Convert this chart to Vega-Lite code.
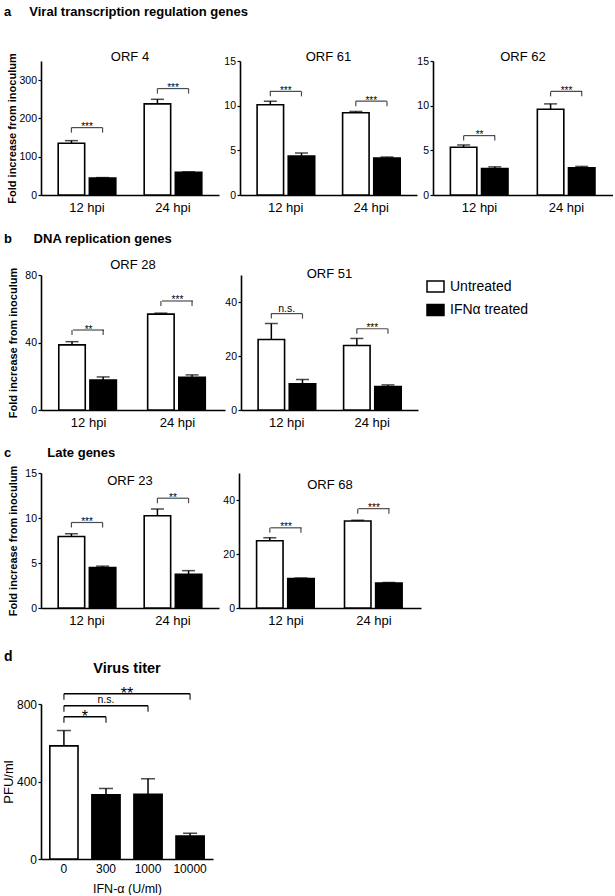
{
  "$schema": "https://vega.github.io/schema/vega-lite/v6.json",
  "background": "white",
  "padding": {"left": 2, "top": 6, "right": 0, "bottom": 0},
  "datasets": {
    "bars": [
      {"orf": "ORF 4", "group": "12 hpi", "treatment": "Untreated", "value": 135, "hi": 142},
      {"orf": "ORF 4", "group": "12 hpi", "treatment": "IFNα treated", "value": 44, "hi": 45.5},
      {"orf": "ORF 4", "group": "24 hpi", "treatment": "Untreated", "value": 238, "hi": 250},
      {"orf": "ORF 4", "group": "24 hpi", "treatment": "IFNα treated", "value": 59, "hi": 60.5},
      {"orf": "ORF 61", "group": "12 hpi", "treatment": "Untreated", "value": 10.1, "hi": 10.5},
      {"orf": "ORF 61", "group": "12 hpi", "treatment": "IFNα treated", "value": 4.35, "hi": 4.7},
      {"orf": "ORF 61", "group": "24 hpi", "treatment": "Untreated", "value": 9.2, "hi": 9.35},
      {"orf": "ORF 61", "group": "24 hpi", "treatment": "IFNα treated", "value": 4.15, "hi": 4.25},
      {"orf": "ORF 62", "group": "12 hpi", "treatment": "Untreated", "value": 5.35, "hi": 5.6},
      {"orf": "ORF 62", "group": "12 hpi", "treatment": "IFNα treated", "value": 2.95, "hi": 3.15},
      {"orf": "ORF 62", "group": "24 hpi", "treatment": "Untreated", "value": 9.6, "hi": 10.2},
      {"orf": "ORF 62", "group": "24 hpi", "treatment": "IFNα treated", "value": 3.05, "hi": 3.2},
      {"orf": "ORF 28", "group": "12 hpi", "treatment": "Untreated", "value": 38.6, "hi": 40.5},
      {"orf": "ORF 28", "group": "12 hpi", "treatment": "IFNα treated", "value": 17.8, "hi": 19.6},
      {"orf": "ORF 28", "group": "24 hpi", "treatment": "Untreated", "value": 56.8, "hi": 57.4},
      {"orf": "ORF 28", "group": "24 hpi", "treatment": "IFNα treated", "value": 19.4, "hi": 20.8},
      {"orf": "ORF 51", "group": "12 hpi", "treatment": "Untreated", "value": 26.1, "hi": 32.0},
      {"orf": "ORF 51", "group": "12 hpi", "treatment": "IFNα treated", "value": 9.7, "hi": 11.3},
      {"orf": "ORF 51", "group": "24 hpi", "treatment": "Untreated", "value": 23.9, "hi": 26.5},
      {"orf": "ORF 51", "group": "24 hpi", "treatment": "IFNα treated", "value": 8.7, "hi": 9.3},
      {"orf": "ORF 23", "group": "12 hpi", "treatment": "Untreated", "value": 7.95, "hi": 8.25},
      {"orf": "ORF 23", "group": "12 hpi", "treatment": "IFNα treated", "value": 4.5, "hi": 4.65},
      {"orf": "ORF 23", "group": "24 hpi", "treatment": "Untreated", "value": 10.25, "hi": 11.0},
      {"orf": "ORF 23", "group": "24 hpi", "treatment": "IFNα treated", "value": 3.75, "hi": 4.15},
      {"orf": "ORF 68", "group": "12 hpi", "treatment": "Untreated", "value": 24.9, "hi": 26.0},
      {"orf": "ORF 68", "group": "12 hpi", "treatment": "IFNα treated", "value": 10.9, "hi": 11.1},
      {"orf": "ORF 68", "group": "24 hpi", "treatment": "Untreated", "value": 32.2, "hi": 32.5},
      {"orf": "ORF 68", "group": "24 hpi", "treatment": "IFNα treated", "value": 9.25, "hi": 9.45}
    ],
    "sig": [
      {"orf": "ORF 4", "group": "12 hpi", "treatment": "Untreated", "level": 176, "label": "***"},
      {"orf": "ORF 4", "group": "12 hpi", "treatment": "IFNα treated", "level": 176, "label": "***"},
      {"orf": "ORF 4", "group": "24 hpi", "treatment": "Untreated", "level": 278, "label": "***"},
      {"orf": "ORF 4", "group": "24 hpi", "treatment": "IFNα treated", "level": 278, "label": "***"},
      {"orf": "ORF 61", "group": "12 hpi", "treatment": "Untreated", "level": 11.6, "label": "***"},
      {"orf": "ORF 61", "group": "12 hpi", "treatment": "IFNα treated", "level": 11.6, "label": "***"},
      {"orf": "ORF 61", "group": "24 hpi", "treatment": "Untreated", "level": 10.5, "label": "***"},
      {"orf": "ORF 61", "group": "24 hpi", "treatment": "IFNα treated", "level": 10.5, "label": "***"},
      {"orf": "ORF 62", "group": "12 hpi", "treatment": "Untreated", "level": 6.65, "label": "**"},
      {"orf": "ORF 62", "group": "12 hpi", "treatment": "IFNα treated", "level": 6.65, "label": "**"},
      {"orf": "ORF 62", "group": "24 hpi", "treatment": "Untreated", "level": 11.6, "label": "***"},
      {"orf": "ORF 62", "group": "24 hpi", "treatment": "IFNα treated", "level": 11.6, "label": "***"},
      {"orf": "ORF 28", "group": "12 hpi", "treatment": "Untreated", "level": 47.4, "label": "**"},
      {"orf": "ORF 28", "group": "12 hpi", "treatment": "IFNα treated", "level": 47.4, "label": "**"},
      {"orf": "ORF 28", "group": "24 hpi", "treatment": "Untreated", "level": 64.6, "label": "***"},
      {"orf": "ORF 28", "group": "24 hpi", "treatment": "IFNα treated", "level": 64.6, "label": "***"},
      {"orf": "ORF 51", "group": "12 hpi", "treatment": "Untreated", "level": 35.7, "label": "n.s."},
      {"orf": "ORF 51", "group": "12 hpi", "treatment": "IFNα treated", "level": 35.7, "label": "n.s."},
      {"orf": "ORF 51", "group": "24 hpi", "treatment": "Untreated", "level": 30.1, "label": "***"},
      {"orf": "ORF 51", "group": "24 hpi", "treatment": "IFNα treated", "level": 30.1, "label": "***"},
      {"orf": "ORF 23", "group": "12 hpi", "treatment": "Untreated", "level": 9.5, "label": "***"},
      {"orf": "ORF 23", "group": "12 hpi", "treatment": "IFNα treated", "level": 9.5, "label": "***"},
      {"orf": "ORF 23", "group": "24 hpi", "treatment": "Untreated", "level": 12.2, "label": "**"},
      {"orf": "ORF 23", "group": "24 hpi", "treatment": "IFNα treated", "level": 12.2, "label": "**"},
      {"orf": "ORF 68", "group": "12 hpi", "treatment": "Untreated", "level": 29.7, "label": "***"},
      {"orf": "ORF 68", "group": "12 hpi", "treatment": "IFNα treated", "level": 29.7, "label": "***"},
      {"orf": "ORF 68", "group": "24 hpi", "treatment": "Untreated", "level": 36.8, "label": "***"},
      {"orf": "ORF 68", "group": "24 hpi", "treatment": "IFNα treated", "level": 36.8, "label": "***"}
    ],
    "titer": [
      {"dose": "0", "treatment": "Untreated", "value": 584, "hi": 663},
      {"dose": "300", "treatment": "IFNα treated", "value": 331, "hi": 364},
      {"dose": "1000", "treatment": "IFNα treated", "value": 334, "hi": 414},
      {"dose": "10000", "treatment": "IFNα treated", "value": 119, "hi": 133}
    ],
    "tsig": [
      {"from": "0", "to": "300", "mid": "300", "level": 734, "label": "*"},
      {"from": "0", "to": "1000", "mid": "300", "level": 791, "label": "n.s."},
      {"from": "0", "to": "10000", "mid": "1000", "level": 853, "label": "**"}
    ]
  },
  "config": {
    "view": {"stroke": null},
    "font": "Liberation Sans",
    "axis": {"domainColor": "black", "domainWidth": 1.6, "tickColor": "black", "tickWidth": 1.2, "labelColor": "black", "titleColor": "black", "grid": false, "labelFont": "Liberation Sans", "titleFont": "Liberation Sans", "labelOverlap": false},
    "axisX": {"ticks": false, "labelFontSize": 13, "labelPadding": 6, "labelAngle": 0},
    "axisY": {"tickSize": 3, "labelFontSize": 10.5, "labelPadding": 1.5, "titleFontSize": 11, "titleFontWeight": "bold", "labelOverlap": false},
    "title": {"color": "black", "fontWeight": "normal", "fontSize": 13, "baseline": "alphabetic", "font": "Liberation Sans", "offset": 0}
  },
  "spacing": 19,
  "resolve": {"scale": {"fill": "independent"}, "legend": {"fill": "independent"}},
  "vconcat": [
    {
      "title": {"text": "a\u00a0\u00a0\u00a0\u00a0\u00a0Viral transcription regulation genes", "anchor": "start", "frame": "group", "dx": -37, "offset": 31.5, "fontSize": 13, "fontWeight": "bold"},
      "spacing": 21,
      "bounds": "flush",
      "resolve": {"scale": {"fill": "independent"}, "legend": {"fill": "independent"}},
      "hconcat": [
        {
          "width": 178, "height": 134,
          "title": {"text": "ORF 4", "offset": 0, "dy": 11.5},
          "layer": [
            {"data": {"name": "bars"}, "transform": [{"filter": "datum.orf == 'ORF 4'"}],
             "mark": {"type": "bar", "stroke": "black", "strokeWidth": 1.6},
             "encoding": {
               "x": {"field": "group", "type": "nominal", "scale": {"paddingInner": 0.33, "paddingOuter": 0.2}, "title": null},
               "xOffset": {"field": "treatment", "type": "nominal", "scale": {"domain": ["Untreated", "IFNα treated"], "paddingInner": 0.15}},
               "y": {"field": "value", "type": "quantitative", "scale": {"domain": [0, 350], "nice": false}, "axis": {"values": [0, 50, 100, 150, 200, 250, 300, 350], "labelOverlap": {"expr": "false"}, "titlePadding": 1}, "title": "Fold increase from inoculum"},
               "fill": {"field": "treatment", "type": "nominal", "scale": {"domain": ["Untreated", "IFNα treated"], "range": ["white", "black"]}, "legend": null}
             }},
            {"data": {"name": "bars"}, "transform": [{"filter": "datum.orf == 'ORF 4'"}],
             "mark": {"type": "rule", "strokeWidth": 1.5, "color": "black"},
             "encoding": {"x": {"field": "group", "type": "nominal"}, "xOffset": {"field": "treatment", "type": "nominal"}, "y": {"field": "value", "type": "quantitative"}, "y2": {"field": "hi"}}},
            {"data": {"name": "bars"}, "transform": [{"filter": "datum.orf == 'ORF 4'"}],
             "mark": {"type": "tick", "orient": "horizontal", "size": 13, "thickness": 1.5, "color": "black"},
             "encoding": {"x": {"field": "group", "type": "nominal"}, "xOffset": {"field": "treatment", "type": "nominal"}, "y": {"field": "hi", "type": "quantitative"}}},
            {"data": {"name": "sig"}, "transform": [{"filter": "datum.orf == 'ORF 4' && datum.treatment == 'Untreated'"}],
             "mark": {"type": "tick", "orient": "horizontal", "size": 31, "thickness": 1.2, "color": "black"},
             "encoding": {"x": {"field": "group", "type": "nominal"}, "y": {"field": "level", "type": "quantitative"}}},
            {"data": {"name": "sig"}, "transform": [{"filter": "datum.orf == 'ORF 4'"}],
             "mark": {"type": "tick", "orient": "vertical", "size": 5, "thickness": 1.2, "color": "black", "yOffset": 2.5},
             "encoding": {"x": {"field": "group", "type": "nominal"}, "xOffset": {"field": "treatment", "type": "nominal"}, "y": {"field": "level", "type": "quantitative"}}},
            {"data": {"name": "sig"}, "transform": [{"filter": "datum.orf == 'ORF 4' && datum.treatment == 'Untreated'"}],
             "mark": {"type": "text", "fontSize": 10, "dy": 2.5, "baseline": "alphabetic", "color": "black"},
             "encoding": {"x": {"field": "group", "type": "nominal"}, "y": {"field": "level", "type": "quantitative"}, "text": {"field": "label"}}}
          ]
        },
        {
          "spacing": 16,
          "bounds": "flush",
          "resolve": {"scale": {"fill": "independent"}, "legend": {"fill": "independent"}},
          "hconcat": [
            {
              "width": 177, "height": 134,
              "title": {"text": "ORF 61", "offset": 0, "dy": 7.8},
              "layer": [
                {"data": {"name": "bars"}, "transform": [{"filter": "datum.orf == 'ORF 61'"}],
                 "mark": {"type": "bar", "stroke": "black", "strokeWidth": 1.6},
                 "encoding": {
                   "x": {"field": "group", "type": "nominal", "scale": {"paddingInner": 0.33, "paddingOuter": 0.2}, "title": null},
                   "xOffset": {"field": "treatment", "type": "nominal", "scale": {"domain": ["Untreated", "IFNα treated"], "paddingInner": 0.15}},
                   "y": {"field": "value", "type": "quantitative", "scale": {"domain": [0, 15], "nice": false}, "axis": {"values": [0, 5, 10, 15], "labelOverlap": {"expr": "false"}}, "title": null},
                   "fill": {"field": "treatment", "type": "nominal", "scale": {"domain": ["Untreated", "IFNα treated"], "range": ["white", "black"]}, "legend": null}
                 }},
                {"data": {"name": "bars"}, "transform": [{"filter": "datum.orf == 'ORF 61'"}],
                 "mark": {"type": "rule", "strokeWidth": 1.5, "color": "black"},
                 "encoding": {"x": {"field": "group", "type": "nominal"}, "xOffset": {"field": "treatment", "type": "nominal"}, "y": {"field": "value", "type": "quantitative"}, "y2": {"field": "hi"}}},
                {"data": {"name": "bars"}, "transform": [{"filter": "datum.orf == 'ORF 61'"}],
                 "mark": {"type": "tick", "orient": "horizontal", "size": 13, "thickness": 1.5, "color": "black"},
                 "encoding": {"x": {"field": "group", "type": "nominal"}, "xOffset": {"field": "treatment", "type": "nominal"}, "y": {"field": "hi", "type": "quantitative"}}},
                {"data": {"name": "sig"}, "transform": [{"filter": "datum.orf == 'ORF 61' && datum.treatment == 'Untreated'"}],
                 "mark": {"type": "tick", "orient": "horizontal", "size": 31, "thickness": 1.2, "color": "black"},
                 "encoding": {"x": {"field": "group", "type": "nominal"}, "y": {"field": "level", "type": "quantitative"}}},
                {"data": {"name": "sig"}, "transform": [{"filter": "datum.orf == 'ORF 61'"}],
                 "mark": {"type": "tick", "orient": "vertical", "size": 5, "thickness": 1.2, "color": "black", "yOffset": 2.5},
                 "encoding": {"x": {"field": "group", "type": "nominal"}, "xOffset": {"field": "treatment", "type": "nominal"}, "y": {"field": "level", "type": "quantitative"}}},
                {"data": {"name": "sig"}, "transform": [{"filter": "datum.orf == 'ORF 61' && datum.treatment == 'Untreated'"}],
                 "mark": {"type": "text", "fontSize": 10, "dy": 2.5, "baseline": "alphabetic", "color": "black"},
                 "encoding": {"x": {"field": "group", "type": "nominal"}, "y": {"field": "level", "type": "quantitative"}, "text": {"field": "label"}}}
              ]
            },
            {
              "width": 180, "height": 134,
              "title": {"text": "ORF 62", "offset": 0, "dy": 7.8},
              "layer": [
                {"data": {"name": "bars"}, "transform": [{"filter": "datum.orf == 'ORF 62'"}],
                 "mark": {"type": "bar", "stroke": "black", "strokeWidth": 1.6},
                 "encoding": {
                   "x": {"field": "group", "type": "nominal", "scale": {"paddingInner": 0.33, "paddingOuter": 0.2}, "title": null},
                   "xOffset": {"field": "treatment", "type": "nominal", "scale": {"domain": ["Untreated", "IFNα treated"], "paddingInner": 0.15}},
                   "y": {"field": "value", "type": "quantitative", "scale": {"domain": [0, 15], "nice": false}, "axis": {"values": [0, 5, 10, 15], "labelOverlap": {"expr": "false"}}, "title": null},
                   "fill": {"field": "treatment", "type": "nominal", "scale": {"domain": ["Untreated", "IFNα treated"], "range": ["white", "black"]}, "legend": null}
                 }},
                {"data": {"name": "bars"}, "transform": [{"filter": "datum.orf == 'ORF 62'"}],
                 "mark": {"type": "rule", "strokeWidth": 1.5, "color": "black"},
                 "encoding": {"x": {"field": "group", "type": "nominal"}, "xOffset": {"field": "treatment", "type": "nominal"}, "y": {"field": "value", "type": "quantitative"}, "y2": {"field": "hi"}}},
                {"data": {"name": "bars"}, "transform": [{"filter": "datum.orf == 'ORF 62'"}],
                 "mark": {"type": "tick", "orient": "horizontal", "size": 13, "thickness": 1.5, "color": "black"},
                 "encoding": {"x": {"field": "group", "type": "nominal"}, "xOffset": {"field": "treatment", "type": "nominal"}, "y": {"field": "hi", "type": "quantitative"}}},
                {"data": {"name": "sig"}, "transform": [{"filter": "datum.orf == 'ORF 62' && datum.treatment == 'Untreated'"}],
                 "mark": {"type": "tick", "orient": "horizontal", "size": 31, "thickness": 1.2, "color": "black"},
                 "encoding": {"x": {"field": "group", "type": "nominal"}, "y": {"field": "level", "type": "quantitative"}}},
                {"data": {"name": "sig"}, "transform": [{"filter": "datum.orf == 'ORF 62'"}],
                 "mark": {"type": "tick", "orient": "vertical", "size": 5, "thickness": 1.2, "color": "black", "yOffset": 2.5},
                 "encoding": {"x": {"field": "group", "type": "nominal"}, "xOffset": {"field": "treatment", "type": "nominal"}, "y": {"field": "level", "type": "quantitative"}}},
                {"data": {"name": "sig"}, "transform": [{"filter": "datum.orf == 'ORF 62' && datum.treatment == 'Untreated'"}],
                 "mark": {"type": "text", "fontSize": 10, "dy": 2.5, "baseline": "alphabetic", "color": "black"},
                 "encoding": {"x": {"field": "group", "type": "nominal"}, "y": {"field": "level", "type": "quantitative"}, "text": {"field": "label"}}}
              ]
            }
          ]
        }
      ]
    },
    {
      "spacing": 17,
      "resolve": {"scale": {"fill": "independent"}, "legend": {"fill": "independent"}},
      "vconcat": [
        {
          "title": {"text": "b\u00a0\u00a0\u00a0\u00a0\u00a0\u00a0DNA replication genes", "anchor": "start", "frame": "group", "dx": -37, "offset": 13, "fontSize": 13, "fontWeight": "bold"},
          "spacing": 16,
          "bounds": "flush",
          "resolve": {"scale": {"fill": "independent"}, "legend": {"fill": "independent"}},
          "hconcat": [
            {
              "width": 184, "height": 135,
              "title": {"text": "ORF 28", "offset": 0, "dy": 5},
              "layer": [
                {"data": {"name": "bars"}, "transform": [{"filter": "datum.orf == 'ORF 28'"}],
                 "mark": {"type": "bar", "stroke": "black", "strokeWidth": 1.6},
                 "encoding": {
                   "x": {"field": "group", "type": "nominal", "scale": {"paddingInner": 0.33, "paddingOuter": 0.2}, "title": null},
                   "xOffset": {"field": "treatment", "type": "nominal", "scale": {"domain": ["Untreated", "IFNα treated"], "paddingInner": 0.15}},
                   "y": {"field": "value", "type": "quantitative", "scale": {"domain": [0, 80], "nice": false}, "axis": {"values": [0, 20, 40, 60, 80], "labelOverlap": {"expr": "false"}, "titlePadding": 6}, "title": "Fold increase from inoculum"},
                   "fill": {"field": "treatment", "type": "nominal", "scale": {"domain": ["Untreated", "IFNα treated"], "range": ["white", "black"]}, "legend": null}
                 }},
                {"data": {"name": "bars"}, "transform": [{"filter": "datum.orf == 'ORF 28'"}],
                 "mark": {"type": "rule", "strokeWidth": 1.5, "color": "black"},
                 "encoding": {"x": {"field": "group", "type": "nominal"}, "xOffset": {"field": "treatment", "type": "nominal"}, "y": {"field": "value", "type": "quantitative"}, "y2": {"field": "hi"}}},
                {"data": {"name": "bars"}, "transform": [{"filter": "datum.orf == 'ORF 28'"}],
                 "mark": {"type": "tick", "orient": "horizontal", "size": 13, "thickness": 1.5, "color": "black"},
                 "encoding": {"x": {"field": "group", "type": "nominal"}, "xOffset": {"field": "treatment", "type": "nominal"}, "y": {"field": "hi", "type": "quantitative"}}},
                {"data": {"name": "sig"}, "transform": [{"filter": "datum.orf == 'ORF 28' && datum.treatment == 'Untreated'"}],
                 "mark": {"type": "tick", "orient": "horizontal", "size": 31, "thickness": 1.2, "color": "black"},
                 "encoding": {"x": {"field": "group", "type": "nominal"}, "y": {"field": "level", "type": "quantitative"}}},
                {"data": {"name": "sig"}, "transform": [{"filter": "datum.orf == 'ORF 28'"}],
                 "mark": {"type": "tick", "orient": "vertical", "size": 5, "thickness": 1.2, "color": "black", "yOffset": 2.5},
                 "encoding": {"x": {"field": "group", "type": "nominal"}, "xOffset": {"field": "treatment", "type": "nominal"}, "y": {"field": "level", "type": "quantitative"}}},
                {"data": {"name": "sig"}, "transform": [{"filter": "datum.orf == 'ORF 28' && datum.treatment == 'Untreated'"}],
                 "mark": {"type": "text", "fontSize": 10, "dy": 2.5, "baseline": "alphabetic", "color": "black"},
                 "encoding": {"x": {"field": "group", "type": "nominal"}, "y": {"field": "level", "type": "quantitative"}, "text": {"field": "label"}}}
              ]
            },
            {
              "width": 177, "height": 135,
              "title": {"text": "ORF 51", "offset": 0, "dy": 5.5},
              "layer": [
                {"data": {"name": "bars"}, "transform": [{"filter": "datum.orf == 'ORF 51'"}],
                 "mark": {"type": "bar", "stroke": "black", "strokeWidth": 1.6},
                 "encoding": {
                   "x": {"field": "group", "type": "nominal", "scale": {"paddingInner": 0.33, "paddingOuter": 0.2}, "title": null},
                   "xOffset": {"field": "treatment", "type": "nominal", "scale": {"domain": ["Untreated", "IFNα treated"], "paddingInner": 0.15}},
                   "y": {"field": "value", "type": "quantitative", "scale": {"domain": [0, 50], "nice": false}, "axis": {"values": [0, 10, 20, 30, 40, 50], "labelOverlap": {"expr": "false"}}, "title": null},
                   "fill": {"field": "treatment", "type": "nominal", "scale": {"domain": ["Untreated", "IFNα treated"], "range": ["white", "black"]},
                            "legend": {"orient": "right", "offset": 6, "padding": 2, "title": null, "symbolType": "M-1,-0.65H1V0.65H-1Z", "symbolSize": 289, "symbolStrokeColor": "black", "symbolStrokeWidth": 1.5, "labelFontSize": 14, "labelFont": "Liberation Sans", "labelColor": "black", "rowPadding": 4.5, "labelOffset": 5}}
                 }},
                {"data": {"name": "bars"}, "transform": [{"filter": "datum.orf == 'ORF 51'"}],
                 "mark": {"type": "rule", "strokeWidth": 1.5, "color": "black"},
                 "encoding": {"x": {"field": "group", "type": "nominal"}, "xOffset": {"field": "treatment", "type": "nominal"}, "y": {"field": "value", "type": "quantitative"}, "y2": {"field": "hi"}}},
                {"data": {"name": "bars"}, "transform": [{"filter": "datum.orf == 'ORF 51'"}],
                 "mark": {"type": "tick", "orient": "horizontal", "size": 13, "thickness": 1.5, "color": "black"},
                 "encoding": {"x": {"field": "group", "type": "nominal"}, "xOffset": {"field": "treatment", "type": "nominal"}, "y": {"field": "hi", "type": "quantitative"}}},
                {"data": {"name": "sig"}, "transform": [{"filter": "datum.orf == 'ORF 51' && datum.treatment == 'Untreated'"}],
                 "mark": {"type": "tick", "orient": "horizontal", "size": 31, "thickness": 1.2, "color": "black"},
                 "encoding": {"x": {"field": "group", "type": "nominal"}, "y": {"field": "level", "type": "quantitative"}}},
                {"data": {"name": "sig"}, "transform": [{"filter": "datum.orf == 'ORF 51'"}],
                 "mark": {"type": "tick", "orient": "vertical", "size": 5, "thickness": 1.2, "color": "black", "yOffset": 2.5},
                 "encoding": {"x": {"field": "group", "type": "nominal"}, "xOffset": {"field": "treatment", "type": "nominal"}, "y": {"field": "level", "type": "quantitative"}}},
                {"data": {"name": "sig"}, "transform": [{"filter": "datum.orf == 'ORF 51' && datum.treatment == 'Untreated' && datum.label != 'n.s.'"}],
                 "mark": {"type": "text", "fontSize": 10, "dy": 2.5, "baseline": "alphabetic", "color": "black"},
                 "encoding": {"x": {"field": "group", "type": "nominal"}, "y": {"field": "level", "type": "quantitative"}, "text": {"field": "label"}}},
                {"data": {"name": "sig"}, "transform": [{"filter": "datum.orf == 'ORF 51' && datum.treatment == 'Untreated' && datum.label == 'n.s.'"}],
                 "mark": {"type": "text", "fontSize": 10.5, "dy": -2, "baseline": "alphabetic", "color": "black"},
                 "encoding": {"x": {"field": "group", "type": "nominal"}, "y": {"field": "level", "type": "quantitative"}, "text": {"field": "label"}}}
              ]
            }
          ]
        },
        {
          "spacing": 23,
          "resolve": {"scale": {"fill": "independent"}, "legend": {"fill": "independent"}},
          "vconcat": [
            {
              "title": {"text": "c\u00a0\u00a0\u00a0\u00a0\u00a0\u00a0\u00a0\u00a0\u00a0\u00a0Late genes", "anchor": "start", "frame": "group", "dx": -37, "offset": 5.5, "fontSize": 13, "fontWeight": "bold"},
              "spacing": 20,
              "bounds": "flush",
              "resolve": {"scale": {"fill": "independent"}, "legend": {"fill": "independent"}},
              "hconcat": [
                {
                  "width": 178, "height": 135,
                  "title": {"text": "ORF 23", "offset": 0, "dy": 22.5},
                  "layer": [
                    {"data": {"name": "bars"}, "transform": [{"filter": "datum.orf == 'ORF 23'"}],
                     "mark": {"type": "bar", "stroke": "black", "strokeWidth": 1.6},
                     "encoding": {
                       "x": {"field": "group", "type": "nominal", "scale": {"paddingInner": 0.33, "paddingOuter": 0.2}, "title": null},
                       "xOffset": {"field": "treatment", "type": "nominal", "scale": {"domain": ["Untreated", "IFNα treated"], "paddingInner": 0.15}},
                       "y": {"field": "value", "type": "quantitative", "scale": {"domain": [0, 15], "nice": false}, "axis": {"values": [0, 5, 10, 15], "labelOverlap": {"expr": "false"}, "titlePadding": 6}, "title": "Fold increase from inoculum"},
                       "fill": {"field": "treatment", "type": "nominal", "scale": {"domain": ["Untreated", "IFNα treated"], "range": ["white", "black"]}, "legend": null}
                     }},
                    {"data": {"name": "bars"}, "transform": [{"filter": "datum.orf == 'ORF 23'"}],
                     "mark": {"type": "rule", "strokeWidth": 1.5, "color": "black"},
                     "encoding": {"x": {"field": "group", "type": "nominal"}, "xOffset": {"field": "treatment", "type": "nominal"}, "y": {"field": "value", "type": "quantitative"}, "y2": {"field": "hi"}}},
                    {"data": {"name": "bars"}, "transform": [{"filter": "datum.orf == 'ORF 23'"}],
                     "mark": {"type": "tick", "orient": "horizontal", "size": 13, "thickness": 1.5, "color": "black"},
                     "encoding": {"x": {"field": "group", "type": "nominal"}, "xOffset": {"field": "treatment", "type": "nominal"}, "y": {"field": "hi", "type": "quantitative"}}},
                    {"data": {"name": "sig"}, "transform": [{"filter": "datum.orf == 'ORF 23' && datum.treatment == 'Untreated'"}],
                     "mark": {"type": "tick", "orient": "horizontal", "size": 31, "thickness": 1.2, "color": "black"},
                     "encoding": {"x": {"field": "group", "type": "nominal"}, "y": {"field": "level", "type": "quantitative"}}},
                    {"data": {"name": "sig"}, "transform": [{"filter": "datum.orf == 'ORF 23'"}],
                     "mark": {"type": "tick", "orient": "vertical", "size": 5, "thickness": 1.2, "color": "black", "yOffset": 2.5},
                     "encoding": {"x": {"field": "group", "type": "nominal"}, "xOffset": {"field": "treatment", "type": "nominal"}, "y": {"field": "level", "type": "quantitative"}}},
                    {"data": {"name": "sig"}, "transform": [{"filter": "datum.orf == 'ORF 23' && datum.treatment == 'Untreated'"}],
                     "mark": {"type": "text", "fontSize": 10, "dy": 2.5, "baseline": "alphabetic", "color": "black"},
                     "encoding": {"x": {"field": "group", "type": "nominal"}, "y": {"field": "level", "type": "quantitative"}, "text": {"field": "label"}}}
                  ]
                },
                {
                  "width": 182, "height": 135,
                  "title": {"text": "ORF 68", "offset": 0, "dy": 19},
                  "layer": [
                    {"data": {"name": "bars"}, "transform": [{"filter": "datum.orf == 'ORF 68'"}],
                     "mark": {"type": "bar", "stroke": "black", "strokeWidth": 1.6},
                     "encoding": {
                       "x": {"field": "group", "type": "nominal", "scale": {"paddingInner": 0.33, "paddingOuter": 0.2}, "title": null},
                       "xOffset": {"field": "treatment", "type": "nominal", "scale": {"domain": ["Untreated", "IFNα treated"], "paddingInner": 0.15}},
                       "y": {"field": "value", "type": "quantitative", "scale": {"domain": [0, 50], "nice": false}, "axis": {"values": [0, 10, 20, 30, 40, 50], "labelOverlap": {"expr": "false"}}, "title": null},
                       "fill": {"field": "treatment", "type": "nominal", "scale": {"domain": ["Untreated", "IFNα treated"], "range": ["white", "black"]}, "legend": null}
                     }},
                    {"data": {"name": "bars"}, "transform": [{"filter": "datum.orf == 'ORF 68'"}],
                     "mark": {"type": "rule", "strokeWidth": 1.5, "color": "black"},
                     "encoding": {"x": {"field": "group", "type": "nominal"}, "xOffset": {"field": "treatment", "type": "nominal"}, "y": {"field": "value", "type": "quantitative"}, "y2": {"field": "hi"}}},
                    {"data": {"name": "bars"}, "transform": [{"filter": "datum.orf == 'ORF 68'"}],
                     "mark": {"type": "tick", "orient": "horizontal", "size": 13, "thickness": 1.5, "color": "black"},
                     "encoding": {"x": {"field": "group", "type": "nominal"}, "xOffset": {"field": "treatment", "type": "nominal"}, "y": {"field": "hi", "type": "quantitative"}}},
                    {"data": {"name": "sig"}, "transform": [{"filter": "datum.orf == 'ORF 68' && datum.treatment == 'Untreated'"}],
                     "mark": {"type": "tick", "orient": "horizontal", "size": 31, "thickness": 1.2, "color": "black"},
                     "encoding": {"x": {"field": "group", "type": "nominal"}, "y": {"field": "level", "type": "quantitative"}}},
                    {"data": {"name": "sig"}, "transform": [{"filter": "datum.orf == 'ORF 68'"}],
                     "mark": {"type": "tick", "orient": "vertical", "size": 5, "thickness": 1.2, "color": "black", "yOffset": 2.5},
                     "encoding": {"x": {"field": "group", "type": "nominal"}, "xOffset": {"field": "treatment", "type": "nominal"}, "y": {"field": "level", "type": "quantitative"}}},
                    {"data": {"name": "sig"}, "transform": [{"filter": "datum.orf == 'ORF 68' && datum.treatment == 'Untreated'"}],
                     "mark": {"type": "text", "fontSize": 10, "dy": 2.5, "baseline": "alphabetic", "color": "black"},
                     "encoding": {"x": {"field": "group", "type": "nominal"}, "y": {"field": "level", "type": "quantitative"}, "text": {"field": "label"}}}
                  ]
                }
              ]
            },
            {
              "title": {"text": "d", "anchor": "start", "frame": "group", "dx": -37, "dy": 3, "offset": 0, "fontSize": 14, "fontWeight": "bold"},
              "bounds": "flush",
              "hconcat": [
                {
                  "width": 172, "height": 155,
                  "title": {"text": "Virus titer", "anchor": "middle", "frame": "group", "offset": 9, "fontSize": 14.5, "fontWeight": "bold"},
                  "layer": [
                    {"data": {"name": "titer"},
                     "mark": {"type": "bar", "stroke": "black", "strokeWidth": 1.6},
                     "encoding": {
                       "x": {"field": "dose", "type": "ordinal", "sort": ["0", "300", "1000", "10000"], "scale": {"domain": ["0", "300", "1000", "10000"], "paddingInner": 0.33, "paddingOuter": 0.21}, "title": "IFN-α (U/ml)", "axis": {"labelFontSize": 12, "labelPadding": 4, "titleFontSize": 12.5, "titleFontWeight": "normal", "titlePadding": 8}},
                       "y": {"field": "value", "type": "quantitative", "scale": {"domain": [0, 800], "nice": false}, "title": "PFU/ml", "axis": {"values": [0, 200, 400, 600, 800], "labelOverlap": {"expr": "false"}, "labelFontSize": 12, "titleFontSize": 13, "titleFontWeight": "normal", "titlePadding": 1}},
                       "fill": {"field": "treatment", "type": "nominal", "scale": {"domain": ["Untreated", "IFNα treated"], "range": ["white", "black"]}, "legend": null}
                     }},
                    {"data": {"name": "titer"},
                     "mark": {"type": "rule", "strokeWidth": 1.5, "color": "black"},
                     "encoding": {"x": {"field": "dose", "type": "ordinal"}, "y": {"field": "value", "type": "quantitative"}, "y2": {"field": "hi"}}},
                    {"data": {"name": "titer"},
                     "mark": {"type": "tick", "orient": "horizontal", "size": 14, "thickness": 1.5, "color": "black"},
                     "encoding": {"x": {"field": "dose", "type": "ordinal"}, "y": {"field": "hi", "type": "quantitative"}}},
                    {"data": {"name": "tsig"},
                     "mark": {"type": "rule", "strokeWidth": 1.5, "color": "black", "clip": false},
                     "encoding": {"x": {"field": "from", "type": "ordinal"}, "x2": {"field": "to"}, "y": {"field": "level", "type": "quantitative"}}},
                    {"data": {"name": "tsig"},
                     "mark": {"type": "tick", "orient": "vertical", "size": 6, "thickness": 1.5, "color": "black", "yOffset": 3},
                     "encoding": {"x": {"field": "from", "type": "ordinal"}, "y": {"field": "level", "type": "quantitative"}}},
                    {"data": {"name": "tsig"},
                     "mark": {"type": "tick", "orient": "vertical", "size": 6, "thickness": 1.5, "color": "black", "yOffset": 3},
                     "encoding": {"x": {"field": "to", "type": "ordinal"}, "y": {"field": "level", "type": "quantitative"}}},
                    {"data": {"name": "tsig"}, "transform": [{"filter": "datum.label != 'n.s.'"}],
                     "mark": {"type": "text", "fontSize": 16, "dy": 5, "baseline": "alphabetic", "color": "black"},
                     "encoding": {"x": {"field": "mid", "type": "ordinal", "bandPosition": -0.246}, "y": {"field": "level", "type": "quantitative"}, "text": {"field": "label"}}},
                    {"data": {"name": "tsig"}, "transform": [{"filter": "datum.label == 'n.s.'"}],
                     "mark": {"type": "text", "fontSize": 10.5, "dy": -3, "baseline": "alphabetic", "color": "black"},
                     "encoding": {"x": {"field": "mid", "type": "ordinal", "bandPosition": 0.5}, "y": {"field": "level", "type": "quantitative"}, "text": {"field": "label"}}}
                  ]
                }
              ]
            }
          ]
        }
      ]
    }
  ]
}
